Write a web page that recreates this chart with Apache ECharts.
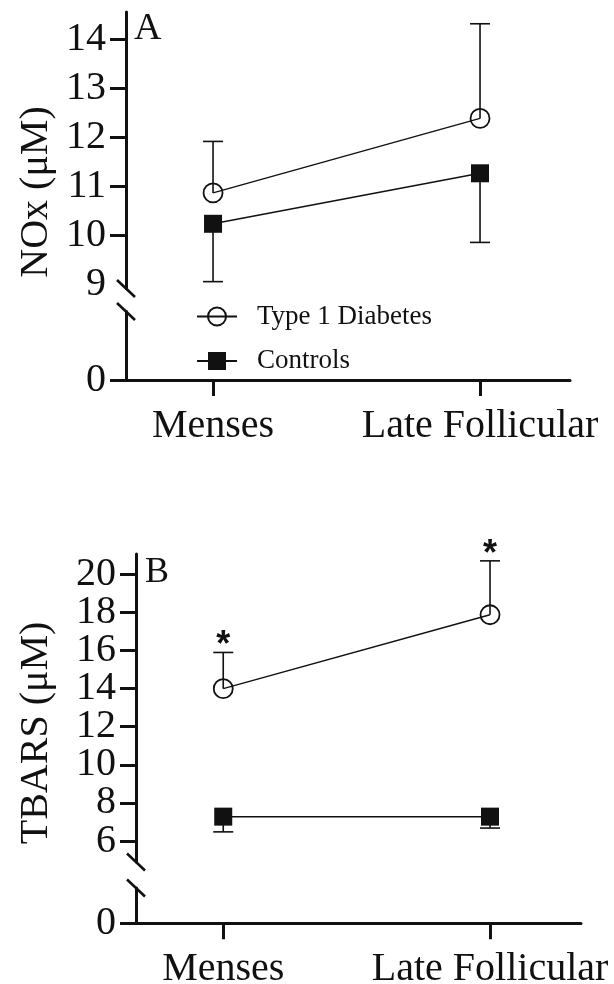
<!DOCTYPE html>
<html><head><meta charset="utf-8">
<script src="https://cdn.jsdelivr.net/npm/echarts@6/dist/echarts.min.js"></script>
<style>html,body{margin:0;padding:0;background:#fff}#c{width:614px;height:984px}</style>
</head><body><div id="c"></div>
<script>
// ---- data ----
const categories = ['Menses', 'Late Follicular'];
const seriesNames = ['Type 1 Diabetes', 'Controls'];
const noxTickLabels = [9, 10, 11, 12, 13, 14];
const noxTickMarks = [10, 11, 12, 13, 14];
const tbarsTickLabels = [6, 8, 10, 12, 14, 16, 18, 20];
const zeroTick = [0];
const noxT1D = [10.87, 12.39];
const noxT1DErrUp = [1.05, 1.93];
const noxCtrl = [10.24, 11.27];
const noxCtrlErrDown = [1.18, 1.41];
const tbarsT1D = [14.0, 17.88];
const tbarsT1DErrUp = [1.9, 2.83];
const tbarsCtrl = [7.28, 7.28];
const tbarsCtrlErrDown = [0.8, 0.6];
const tbarsT1DSig = [1, 1];

// ---- layout ----
const FONT = '"Liberation Serif", "Times New Roman", serif';
const INK = '#111';
const A = {ax: 126, right: 570, upTop: 12, upBot: 288.5, lowTop: 311.5, lowBot: 380, yMin: 8.92, yMax: 14.56, xMin: -0.326, xMax: 1.337};
const B = {ax: 136, right: 581, upTop: 554, upBot: 862, lowTop: 888, lowBot: 923.3, yMin: 4.898, yMax: 21.07, xMin: -0.327, xMax: 1.341};

function grids(P) {
  return [
    {left: P.ax, top: P.upTop, width: P.right - P.ax, height: P.upBot - P.upTop, containLabel: false, outerBoundsMode: 'none'},
    {left: P.ax, top: P.lowTop, width: P.right - P.ax, height: P.lowBot - P.lowTop, containLabel: false, outerBoundsMode: 'none'}
  ];
}
const axisLineStyle = {show: true, onZero: false, lineStyle: {color: INK, width: 3}};
const labelStyle = {color: INK, fontFamily: FONT, fontSize: 40, hideOverlap: false};

function xAxes(P, g0) {
  return [
    {gridIndex: g0, type: 'value', min: P.xMin, max: P.xMax, show: false},
    {gridIndex: g0 + 1, type: 'value', min: P.xMin, max: P.xMax,
     axisLine: axisLineStyle, splitLine: {show: false},
     axisTick: {show: true, length: 16, lineStyle: {color: INK, width: 3}, customValues: [0, 1]},
     axisLabel: Object.assign({margin: 26, customValues: [0, 1], formatter: v => categories[Math.round(v)]}, labelStyle)}
  ];
}
// labels: shown on main axis; extraLabels: shown on a label-only twin axis (avoids min/max overlap hiding)
function yAxes(P, g0, labels, marks, extraLabels) {
  const axes = [
    {gridIndex: g0, type: 'value', position: 'left', offset: 0, min: P.yMin, max: P.yMax,
     axisLine: axisLineStyle, splitLine: {show: false},
     axisTick: {show: true, length: 16, lineStyle: {color: INK, width: 3}, customValues: marks},
     axisLabel: Object.assign({margin: 20, customValues: labels, showMinLabel: true, showMaxLabel: true}, labelStyle)},
    {gridIndex: g0 + 1, type: 'value', position: 'left', offset: 0, min: 0, max: 1,
     axisLine: axisLineStyle, splitLine: {show: false},
     axisTick: {show: true, length: 16, lineStyle: {color: INK, width: 3}, customValues: zeroTick},
     axisLabel: Object.assign({margin: 20, customValues: zeroTick, showMinLabel: true}, labelStyle)}
  ];
  if (extraLabels && extraLabels.length) {
    axes.push({gridIndex: g0, type: 'value', position: 'left', offset: 0, min: P.yMin, max: P.yMax,
      axisLine: {show: false}, axisTick: {show: false}, splitLine: {show: false},
      axisLabel: Object.assign({margin: 20, customValues: extraLabels, showMinLabel: true, showMaxLabel: true}, labelStyle)});
  }
  return axes;
}

function lineSeries(name, vals, axisIdx, hollow) {
  return {
    name: name, type: 'line', xAxisIndex: axisIdx, yAxisIndex: axisIdx,
    data: vals.map((v, i) => [i, v]),
    symbol: hollow ? 'circle' : 'rect', symbolSize: hollow ? 19 : 18,
    itemStyle: hollow ? {color: 'rgba(255,255,255,0)', borderColor: INK, borderWidth: 1.8} : {color: INK},
    lineStyle: {color: INK, width: 1.5}, z: 4, silent: true
  };
}
function errSeries(vals, errs, sign, sig, axisIdx) {
  return {
    type: 'custom', xAxisIndex: axisIdx, yAxisIndex: axisIdx, z: 3, silent: true, clip: false,
    data: vals.map((v, i) => [i, v, sign * errs[i], sig ? sig[i] : 0]),
    encode: {x: 0, y: 1},
    renderItem: function (params, api) {
      const x = api.value(0), y = api.value(1), e = api.value(2);
      const p0 = api.coord([x, y]);
      const p1 = api.coord([x, y + e]);
      const st = {stroke: INK, lineWidth: 1.6};
      const ch = [
        {type: 'line', shape: {x1: p0[0], y1: p0[1], x2: p1[0], y2: p1[1]}, style: st},
        {type: 'line', shape: {x1: p1[0] - 10, y1: p1[1], x2: p1[0] + 10, y2: p1[1]}, style: st}
      ];
      if (api.value(3) === 1) {
        ch.push({type: 'text', x: p1[0], y: p1[1] - 6,
          style: {text: '*', fill: INK, font: 'bold 36px "Liberation Sans", Arial, sans-serif', align: 'center', verticalAlign: 'middle'}});
      }
      return {type: 'group', children: ch};
    }
  };
}
function slashes(P) {
  const mk = (cy) => ({type: 'line', silent: true, z: 10,
    shape: {x1: P.ax - 9, y1: cy - 8.5, x2: P.ax + 9, y2: cy + 8.5},
    style: {stroke: INK, lineWidth: 2.6}});
  return [mk(P.upBot), mk(P.lowTop)];
}
function txt(text, x, y, size, rot, align, valign) {
  return {type: 'text', x: x, y: y, rotation: rot || 0, silent: true,
    style: {text: text, fill: INK, font: size + 'px ' + FONT, align: align, verticalAlign: valign,
            textAlign: align, textVerticalAlign: valign}};
}

// second and second-to-last labels go on the twin axis so none get auto-hidden
const tbarsMainSet = [tbarsTickLabels[0]].concat(tbarsTickLabels.slice(2, -2), [tbarsTickLabels[tbarsTickLabels.length - 1]]);
const tbarsExtra = [tbarsTickLabels[1], tbarsTickLabels[tbarsTickLabels.length - 2]];

const yA = yAxes(A, 0, noxTickLabels, noxTickMarks, null);
const yB = yAxes(B, 2, tbarsMainSet, tbarsTickLabels, tbarsExtra);

const chart = echarts.init(document.getElementById('c'), null, {renderer: 'canvas'});
chart.setOption({
  animation: false,
  backgroundColor: '#fff',
  grid: grids(A).concat(grids(B)),
  xAxis: xAxes(A, 0).concat(xAxes(B, 2)),
  yAxis: yA.concat(yB),
  legend: {
    data: seriesNames, orient: 'vertical', left: 191, top: 298, padding: 5,
    itemWidth: 40, itemHeight: 22.5, itemGap: 17.5, selectedMode: false,
    textStyle: {fontFamily: FONT, fontSize: 27, color: INK, padding: [0, 0, 0, 15]}
  },
  series: [
    errSeries(noxT1D, noxT1DErrUp, 1, null, 0),
    errSeries(noxCtrl, noxCtrlErrDown, -1, null, 0),
    lineSeries(seriesNames[0], noxT1D, 0, true),
    lineSeries(seriesNames[1], noxCtrl, 0, false),
    errSeries(tbarsT1D, tbarsT1DErrUp, 1, tbarsT1DSig, 2),
    errSeries(tbarsCtrl, tbarsCtrlErrDown, -1, null, 2),
    lineSeries(seriesNames[0], tbarsT1D, 2, true),
    lineSeries(seriesNames[1], tbarsCtrl, 2, false)
  ],
  graphic: [
    txt('A', 134, 29, 38, 0, 'left', 'middle'),
    txt('B', 145, 573, 36, 0, 'left', 'middle'),
    txt('NOx (\u03bcM)', 36, 192, 40, Math.PI / 2, 'center', 'middle'),
    txt('TBARS (\u03bcM)', 36, 733, 40, Math.PI / 2, 'center', 'middle')
  ].concat(slashes(A), slashes(B))
});
</script></body></html>
